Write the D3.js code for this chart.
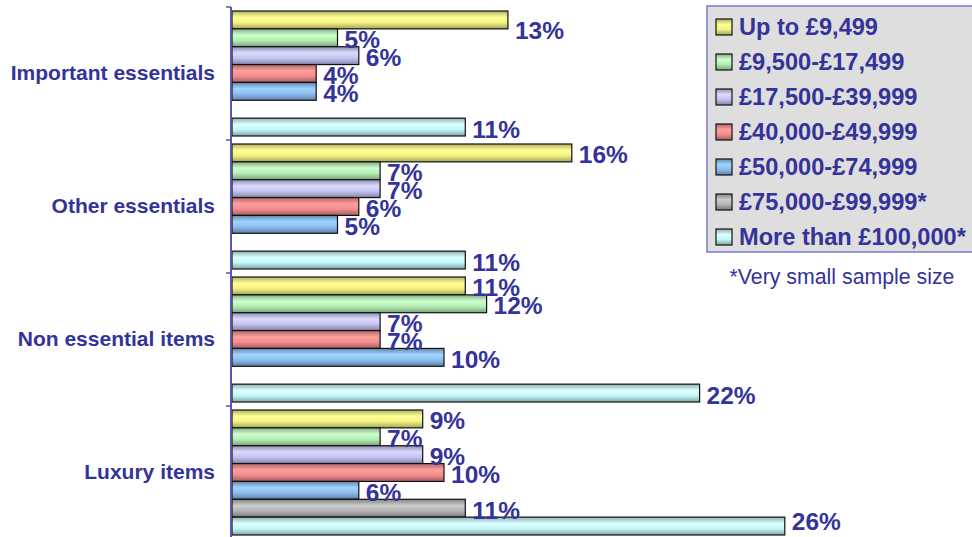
<!DOCTYPE html>
<html>
<head>
<meta charset="utf-8">
<script src="https://cdn.jsdelivr.net/npm/d3@7"></script>
<style>
  html, body { margin: 0; padding: 0; background: #fff; }
  svg { display: block; font-family: "Liberation Sans", Arial, sans-serif; }
</style>
</head>
<body>
<svg id="chart" width="972" height="537"></svg>
<script>
const categories = ["Important essentials", "Other essentials", "Non essential items", "Luxury items"];
const seriesNames = ["Up to £9,499", "£9,500-£17,499", "£17,500-£39,999", "£40,000-£49,999", "£50,000-£74,999", "£75,000-£99,999*", "More than £100,000*"];
const upTo9499      = [13, 16, 11, 9];
const from9500      = [5, 7, 12, 7];
const from17500     = [6, 7, 7, 9];
const from40000     = [4, 6, 7, 10];
const from50000     = [4, 5, 10, 6];
const from75000     = [null, null, null, 11];
const moreThan100k  = [11, 11, 22, 26];
const seriesValues = [upTo9499, from9500, from17500, from40000, from50000, from75000, moreThan100k];
const seriesColors = ["#f2f284", "#b4eeb4", "#c2c2f2", "#f28c8c", "#8cbcee", "#b4b4b4", "#c2f6f6"];
const footnote = "*Very small sample size";

const svg = d3.select("#chart");
const textColor = "#333399";

// gradients
const defs = svg.append("defs");
seriesColors.forEach((c, i) => {
  const g = defs.append("linearGradient").attr("id", "grad" + i)
    .attr("x1", 0).attr("y1", 0).attr("x2", 0).attr("y2", 1);
  const base = d3.color(c);
  g.append("stop").attr("offset", "0%").attr("stop-color", d3.color(c).darker(0.9));
  g.append("stop").attr("offset", "35%").attr("stop-color", d3.color(c).brighter(0.35));
  g.append("stop").attr("offset", "65%").attr("stop-color", base);
  g.append("stop").attr("offset", "100%").attr("stop-color", d3.color(c).darker(1.1));
});

const plotTop = 7, plotBottom = 539;
const x = d3.scaleLinear().domain([0, 30]).range([231, 870]);
const y = d3.scaleBand().domain(categories).range([plotTop, plotBottom]).padding(0);
const ySub = d3.scaleBand().domain(d3.range(seriesNames.length)).range([4, y.bandwidth() - 4]).padding(0);

// bars
const rows = [];
categories.forEach((cat, ci) => {
  seriesValues.forEach((vals, si) => {
    if (vals[ci] != null) rows.push({cat, si, v: vals[ci]});
  });
});

svg.append("g").selectAll("rect").data(rows).join("rect")
  .attr("x", x(0) + 1)
  .attr("y", d => y(d.cat) + ySub(d.si))
  .attr("width", d => x(d.v) - x(0) - 1)
  .attr("height", ySub.bandwidth())
  .attr("fill", d => `url(#grad${d.si})`)
  .attr("stroke", "#111")
  .attr("stroke-width", 1.2);

// value labels (kept inside the plot area, as the original does)
svg.append("g").selectAll("text").data(rows).join("text")
  .attr("x", d => x(d.v) + 7)
  .attr("y", d => {
    const c = y(d.cat) + ySub(d.si) + ySub.bandwidth() / 2 + 2;
    return Math.max(plotTop + 23, Math.min(plotBottom - 18, c));
  })
  .attr("dominant-baseline", "central")
  .attr("font-size", 24.5)
  .attr("font-weight", "bold")
  .attr("fill", textColor)
  .text(d => d.v + "%");

// axis
const axis = d3.axisLeft(y).tickSize(0).tickPadding(16);
const ag = svg.append("g").attr("transform", `translate(${x(0)},0)`).call(axis);
ag.select(".domain").attr("stroke", "#5555aa").attr("stroke-width", 2).attr("d", `M0,${plotTop}V${plotBottom}`);
ag.selectAll(".tick text").attr("font-size", 21).attr("font-weight", "bold").attr("fill", textColor)
  .attr("font-family", "Liberation Sans, Arial, sans-serif");
// boundary ticks
svg.append("g").selectAll("line").data(categories).join("line")
  .attr("x1", x(0) - 5).attr("x2", x(0))
  .attr("y1", d => y(d)).attr("y2", d => y(d))
  .attr("stroke", "#5555aa").attr("stroke-width", 1.5);

// legend
const lg = svg.append("g");
lg.append("rect").attr("x", 707).attr("y", 6).attr("width", 280).attr("height", 246)
  .attr("fill", "#dedede").attr("stroke", "#7a7acc").attr("stroke-width", 1.5);
const items = lg.selectAll("g.item").data(seriesNames).join("g").attr("class", "item")
  .attr("transform", (d, i) => `translate(0,${27 + i * 35})`);
items.append("rect").attr("x", 716).attr("y", -8).attr("width", 16).attr("height", 16)
  .attr("fill", (d, i) => `url(#grad${i})`).attr("stroke", "#111").attr("stroke-width", 1.2);
items.append("text").attr("x", 739).attr("y", 0).attr("dominant-baseline", "central")
  .attr("font-size", 23.6).attr("font-weight", "bold").attr("fill", textColor).text(d => d);

svg.append("text").attr("x", 842).attr("y", 277).attr("text-anchor", "middle")
  .attr("dominant-baseline", "central").attr("font-size", 21.3).attr("fill", textColor).text(footnote);
</script>
</body>
</html>
